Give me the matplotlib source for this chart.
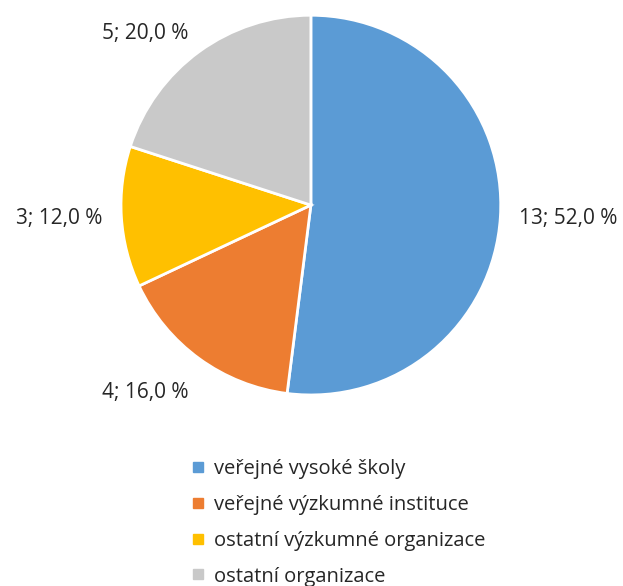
import matplotlib.pyplot as plt
import numpy as np

# data
categories = ['veřejné vysoké školy', 'veřejné výzkumné instituce',
              'ostatní výzkumné organizace', 'ostatní organizace']
counts = [13, 4, 3, 5]
colors = ['#5B9BD5', '#ED7D31', '#FFC000', '#C9C9C9']

plt.rcParams['font.family'] = ['Open Sans', 'DejaVu Sans']

fig = plt.figure(figsize=(6.23, 5.86), dpi=100)
ax = fig.add_axes([0.194, 0.326, 0.61, 0.648])

total = sum(counts)
labels = [f"{c}; {c / total * 100:.1f} %".replace('.', ',') for c in counts]

wedges, _ = ax.pie(counts, colors=colors, startangle=90, counterclock=False,
                   wedgeprops=dict(edgecolor='white', linewidth=2))

# data labels just outside each slice, anchored like Excel's outside end
for w, lab in zip(wedges, labels):
    ang = np.deg2rad((w.theta1 + w.theta2) / 2)
    x, y = 1.1 * np.cos(ang), 1.1 * np.sin(ang)
    ha = 'left' if x > 0 else 'right'
    if abs(np.sin(ang)) < 0.5:
        va = 'center'
    else:
        va = 'bottom' if y > 0 else 'top'
        y -= 0.04
    ax.text(x, y, lab, ha=ha, va=va, fontsize=15, color='#262626')

ax.set_xlim(-1, 1)
ax.set_ylim(-1, 1)
ax.set_aspect('equal')

# legend
handles = [plt.Line2D([0], [0], marker='s', linestyle='', markersize=7,
                      markerfacecolor=c, markeredgecolor=c) for c in colors]
fig.legend(handles, categories, loc='upper left', bbox_to_anchor=(0.272, 0.247),
           frameon=False, labelspacing=0.78, handletextpad=0.3,
           handlelength=1.0, labelcolor='#262626', prop=dict(size=14.5))

fig.savefig('out.png', dpi=100)
